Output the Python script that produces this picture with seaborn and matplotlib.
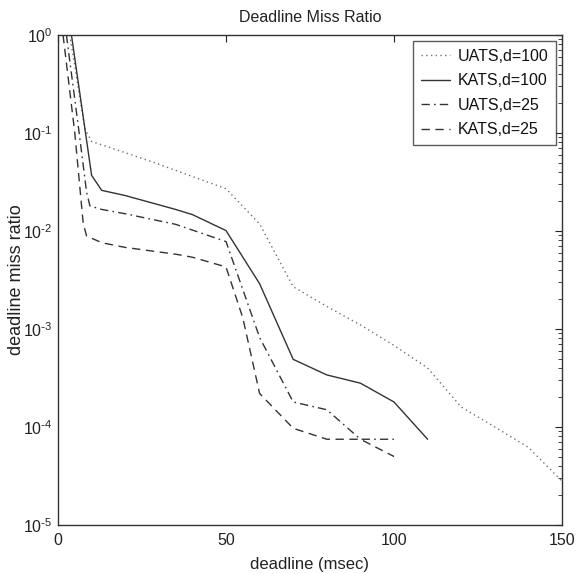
import numpy as np
import pandas as pd
import matplotlib
matplotlib.use("Agg")
import matplotlib.pyplot as plt
import seaborn as sns
from matplotlib.ticker import LogLocator, FixedLocator, FuncFormatter

# deadline (msec) and deadline miss ratio per policy
uats100_x = [3.5, 8, 10, 20, 30, 40, 50, 60, 70, 80, 90, 100, 110, 120, 130, 140, 150]
uats100_y = [1.0, 0.11, 0.082, 0.063, 0.048, 0.036, 0.027, 0.0118, 0.0027, 0.0017, 0.0011,
             0.00068, 0.00040, 0.00016, 0.00010, 0.000062, 0.000028]

kats100_x = [4, 10, 13, 20, 35, 40, 50, 60, 70, 80, 90, 100, 110]
kats100_y = [1.0, 0.037, 0.026, 0.023, 0.0166, 0.0147, 0.0101, 0.0029, 0.00049,
             0.00034, 0.00028, 0.00018, 0.000075]

uats25_x = [2.5, 6.3, 8.5, 9.5, 13, 20, 35, 50, 60, 70, 80, 90, 100]
uats25_y = [1.0, 0.1, 0.025, 0.018, 0.0166, 0.015, 0.0117, 0.0078, 0.00082,
            0.00018, 0.00015, 0.000075, 0.000075]

kats25_x = [1.5, 5, 7.5, 8.5, 13, 20, 35, 40, 50, 55, 60, 70, 80, 90, 100]
kats25_y = [1.0, 0.1, 0.012, 0.0089, 0.0076, 0.0068, 0.0058, 0.0054, 0.0043, 0.0013,
            0.00022, 0.000097, 0.000075, 0.000075, 0.00005]

labels = ["UATS,d=100", "KATS,d=100", "UATS,d=25", "KATS,d=25"]

sns.set_theme(style="white")
plt.rcParams["font.family"] = ["Liberation Sans", "DejaVu Sans"]
plt.rcParams["mathtext.default"] = "regular"

fig = plt.figure(figsize=(5.76, 5.74), dpi=100)
ax = fig.add_axes([58 / 576, 1 - 525 / 574, 504 / 576, 490 / 574])

series = [
    (uats100_x, uats100_y, labels[0], dict(color="#707070", linestyle=(0, (1, 2.4)), linewidth=1.0)),
    (kats100_x, kats100_y, labels[1], dict(color="#333333", linestyle="-", linewidth=1.0)),
    (uats25_x, uats25_y, labels[2], dict(color="#333333", linestyle=(0, (6, 3, 1.2, 3)), linewidth=1.0)),
    (kats25_x, kats25_y, labels[3], dict(color="#333333", linestyle=(0, (6, 4)), linewidth=1.0)),
]
for xs, ys, lab, style in series:
    df = pd.DataFrame({"deadline": xs, "ratio": ys})
    sns.lineplot(data=df, x="deadline", y="ratio", ax=ax, label=lab,
                 estimator=None, sort=False, **style)

ax.set_yscale("log")
ax.set_xlim(0, 150)
ax.set_ylim(1e-5, 1)
ax.xaxis.set_major_locator(FixedLocator([0, 50, 100, 150]))
ax.yaxis.set_major_locator(LogLocator(base=10, numticks=10))
ax.yaxis.set_minor_locator(LogLocator(base=10, subs=np.arange(2, 10), numticks=10))


def decade_label(v, pos):
    n = int(round(np.log10(v)))
    if n < 0:
        return r"$10^{\text{-}%d}$" % (-n)
    return r"$10^{%d}$" % n


ax.yaxis.set_major_formatter(FuncFormatter(decade_label))

ax.tick_params(axis="both", which="both", direction="in", top=True, right=True,
               labelsize=11.5, colors="#222222")
ax.tick_params(axis="x", pad=6)
ax.tick_params(axis="y", pad=4)
ax.tick_params(which="major", length=5, width=0.8)
ax.tick_params(which="minor", length=3, width=0.6)
for sp in ax.spines.values():
    sp.set_color("#333333")
    sp.set_linewidth(1.0)

ax.set_title("Deadline Miss Ratio", fontsize=11.5, color="#222222", pad=9)
ax.set_xlabel("deadline (msec)", fontsize=12, color="#222222", labelpad=6)
ax.set_ylabel("deadline miss ratio", fontsize=13, color="#222222")
ax.yaxis.set_label_coords(-0.083, 0.5)
ax.yaxis.label.set_verticalalignment("center")

leg = ax.legend(loc="upper right", fontsize=11.5, frameon=True, fancybox=False,
                handlelength=1.8, handletextpad=0.5, borderpad=0.5,
                labelspacing=0.6, borderaxespad=0.35)
leg.get_frame().set_edgecolor("#333333")
leg.get_frame().set_linewidth(1.0)
for t in leg.get_texts():
    t.set_color("#111111")

fig.savefig("out.png", dpi=100)
